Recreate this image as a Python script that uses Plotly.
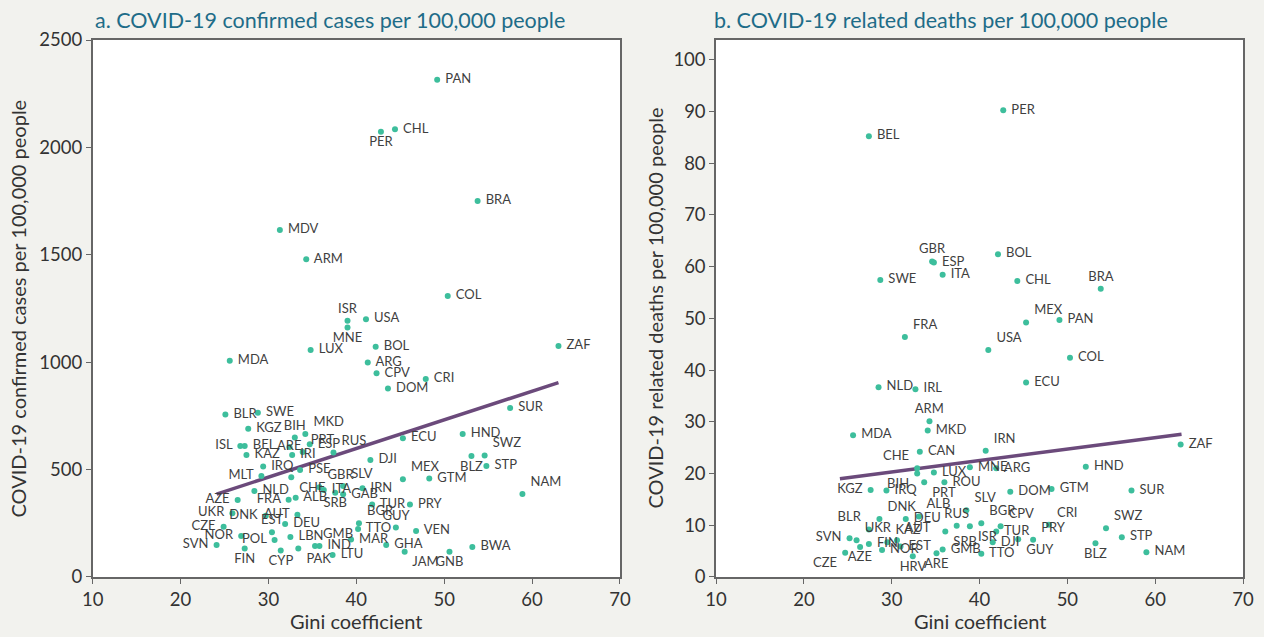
import plotly.graph_objects as go

# ---- panel a: confirmed cases per 100,000 ----
codes_a = ["PAN", "CHL", "PER", "BRA", "MDV", "ARM", "COL", "ISR", "USA", "MNE",
           "BOL", "LUX", "MDA", "ARG", "CPV", "CRI", "DOM", "ZAF", "SUR", "HND",
           "ECU", "BLR", "SWE", "KGZ", "MKD", "BIH", "ISL", "BEL", "ESP", "RUS",
           "ARE", "PRT", "IRI", "KAZ", "IRQ", "MLT", "PSE", "CHE", "GBR", "ITA",
           "SLV", "IRN", "GAB", "SRB", "ALB", "NLD", "AZE", "FRA", "AUT", "UKR",
           "DNK", "CZE", "DEU", "EST", "POL", "NOR", "FIN", "SVN", "CYP", "LBN",
           "PAK", "GMB", "IND", "MAR", "LTU", "BGR", "TTO", "GUY", "VEN", "GHA",
           "JAM", "GNB", "BWA", "DJI", "MEX", "GTM", "TUR", "PRY", "SWZ", "BLZ",
           "STP", "NAM"]
gini_a = [49.2, 44.4, 42.8, 53.8, 31.3, 34.3, 50.4, 39.0, 41.1, 39.0,
          42.2, 34.8, 25.6, 41.3, 42.3, 47.9, 43.6, 63.0, 57.5, 52.1,
          45.3, 25.1, 28.8, 27.7, 34.2, 33.0, 26.8, 27.3, 34.7, 37.4,
          32.4, 33.9, 32.7, 27.5, 29.4, 29.2, 33.6, 32.6, 35.8, 36.3,
          38.5, 40.7, 38.5, 37.6, 33.1, 28.4, 26.5, 32.3, 33.3, 25.9,
          29.7, 24.9, 31.9, 30.4, 30.7, 26.9, 27.3, 24.1, 31.4, 32.5,
          33.4, 35.3, 35.8, 39.4, 37.3, 40.3, 40.2, 44.5, 46.8, 43.4,
          45.5, 50.6, 53.2, 41.6, 45.3, 48.3, 41.8, 46.1, 54.6, 53.1,
          54.8, 58.9]
cases_a = [2315, 2084, 2073, 1750, 1615, 1479, 1308, 1193, 1200, 1162,
           1072, 1057, 1007, 998, 948, 922, 877, 1075, 787, 666,
           646, 756, 765, 690, 666, 649, 610, 610, 618, 579,
           605, 582, 568, 568, 514, 470, 498, 464, 418, 405,
           424, 413, 385, 392, 369, 400, 358, 360, 290, 297,
           285, 234, 247, 208, 172, 191, 133, 149, 123, 186,
           133, 144, 144, 175, 102, 250, 223, 230, 214, 149,
           118, 118, 140, 545, 455, 459, 338, 338, 566, 563,
           517, 386]
trend_a_x = [24.1, 63.0]
trend_a_y = [386, 905]

# ---- panel b: related deaths per 100,000 ----
codes_b = ["PER", "BEL", "GBR", "ESP", "ITA", "BOL", "SWE", "CHL", "BRA", "MEX",
           "PAN", "FRA", "USA", "COL", "NLD", "IRL", "ECU", "ARM", "MKD", "MDA",
           "IRN", "CAN", "CHE", "BIH", "LUX", "MNE", "ARG", "HND", "ROU", "PRT",
           "KGZ", "IRQ", "DOM", "GTM", "SUR", "ZAF", "SWZ", "STP", "NAM", "BLZ",
           "CRI", "ALB", "SLV", "DNK", "DEU", "RUS", "BGR", "CPV", "ISR", "SRB",
           "TUR", "PRY", "DJI", "GUY", "TTO", "GMB", "ARE", "HRV", "BLR", "SVN",
           "UKR", "CZE", "AZE", "FIN", "KAZ", "AUT", "EST", "NOR"]
gini_b = [42.7, 27.4, 34.6, 34.8, 35.8, 42.1, 28.7, 44.3, 53.8, 45.3,
          49.1, 31.5, 41.0, 50.3, 28.5, 32.7, 45.3, 34.3, 34.1, 25.6,
          40.7, 33.2, 32.9, 32.9, 34.8, 38.9, 41.9, 52.1, 36.0, 33.7,
          27.6, 29.4, 43.5, 48.2, 57.3, 62.9, 54.4, 56.2, 59.0, 53.2,
          47.9, 33.1, 38.5, 28.6, 31.6, 37.4, 40.2, 42.4, 38.9, 36.1,
          41.9, 46.1, 41.5, 44.4, 40.2, 35.8, 35.1, 32.4, 27.4, 25.2,
          26.0, 24.7, 26.4, 27.4, 29.5, 30.6, 31.0, 28.9]
deaths_b = [90.2, 85.2, 61.0, 60.8, 58.4, 62.4, 57.4, 57.2, 55.7, 49.2,
            49.7, 46.4, 43.9, 42.4, 36.7, 36.3, 37.6, 30.1, 28.3, 27.4,
            24.4, 24.2, 21.0, 20.0, 20.2, 21.2, 21.0, 21.3, 18.3, 18.3,
            16.8, 16.7, 16.5, 17.0, 16.7, 25.6, 9.4, 7.7, 4.8, 6.5,
            10.1, 11.7, 12.9, 11.2, 11.2, 9.9, 10.4, 9.8, 9.8, 8.8,
            8.8, 7.2, 6.7, 7.3, 4.5, 5.3, 4.6, 4.0, 9.2, 7.5,
            7.1, 4.7, 5.8, 6.4, 6.7, 7.1, 5.9, 5.2]
trend_b_x = [24.1, 63.0]
trend_b_y = [19.0, 27.6]

# label placement where the default (right of the dot) collides
POS_A = {"PER": "bottom center", "ISR": "top center", "MNE": "bottom center",
         "MKD": "top right", "BIH": "top center", "ISL": "middle left",
         "RUS": "top right", "ARE": "middle center", "PRT": "top right",
         "MLT": "middle left", "CHE": "bottom right", "GBR": "top right",
         "SLV": "top right", "SRB": "bottom center", "AZE": "middle left",
         "FRA": "middle left", "AUT": "middle left", "UKR": "middle left",
         "DNK": "middle left", "CZE": "middle left", "EST": "top center",
         "POL": "middle left", "NOR": "middle left", "FIN": "bottom center",
         "SVN": "middle left", "CYP": "bottom center", "PAK": "bottom right",
         "GMB": "top right", "BGR": "top right", "GUY": "top center",
         "JAM": "bottom right", "GNB": "bottom center", "MEX": "top right",
         "SWZ": "top right", "BLZ": "bottom center", "NAM": "top right"}
POS_B = {"GBR": "top center", "BRA": "top center", "MEX": "top right",
         "FRA": "top right", "USA": "top right", "ARM": "top center",
         "IRN": "top right", "CHE": "top left", "BIH": "bottom left",
         "PRT": "bottom right", "KGZ": "middle left", "SWZ": "top right",
         "BLZ": "bottom center", "CRI": "top right", "ALB": "top right",
         "SLV": "top right", "DNK": "top right", "RUS": "top center",
         "BGR": "top right", "CPV": "top right", "ISR": "bottom right",
         "SRB": "bottom right", "PRY": "top right", "GUY": "bottom right",
         "ARE": "bottom center", "HRV": "bottom center", "BLR": "top left",
         "SVN": "middle left", "UKR": "top right", "CZE": "bottom left",
         "AZE": "bottom center", "KAZ": "top right", "AUT": "top right"}

BG = "#F2F2EE"
DOT = "#3DBE9C"
LINE = "#6B4A7B"
TEXT = "#3F3F3F"
FONT = "Lato, Open Sans, sans-serif"

fig = go.Figure()

panels = [
    (codes_a, gini_a, cases_a, POS_A, trend_a_x, trend_a_y, "x", "y"),
    (codes_b, gini_b, deaths_b, POS_B, trend_b_x, trend_b_y, "x2", "y2"),
]
for codes, xs, ys, pos, tx, ty, xa, ya in panels:
    fig.add_trace(go.Scatter(
        x=tx, y=ty, mode="lines", xaxis=xa, yaxis=ya,
        line=dict(color=LINE, width=3.5), hoverinfo="skip"))
    fig.add_trace(go.Scatter(
        x=xs, y=ys, mode="markers+text", xaxis=xa, yaxis=ya,
        text=[" " + c + " " for c in codes],
        textposition=[pos.get(c, "middle right") for c in codes],
        textfont=dict(family=FONT, size=13, color=TEXT),
        marker=dict(color=DOT, size=6),
        cliponaxis=False,
        hovertemplate="%{text}: %{x}, %{y}<extra></extra>"))

axis_style = dict(
    showgrid=False, zeroline=False, showline=True, mirror=True,
    automargin=False,
    linecolor="#666666", linewidth=1.5, ticks="outside", ticklen=5,
    tickcolor="#666666", tickfont=dict(family=FONT, size=18.5, color="#333333"))

fig.update_layout(
    width=1264, height=637,
    margin=dict(l=0, r=0, t=0, b=0, autoexpand=False),
    paper_bgcolor=BG, plot_bgcolor="white",
    showlegend=False,
    xaxis=dict(domain=[0.0733, 0.4905], range=[10, 70], dtick=10, **axis_style),
    yaxis=dict(domain=[0.0942, 0.9372], range=[0, 2500], dtick=500, **axis_style),
    xaxis2=dict(domain=[0.5665, 0.9834], range=[10, 70], dtick=10,
                anchor="y2", **axis_style),
    yaxis2=dict(domain=[0.0942, 0.9372], range=[0, 103.8], dtick=10,
                anchor="x2", **axis_style),
)

titles = [
    (0.0733, "a. COVID-19 confirmed cases per 100,000 people"),
    (0.5635, "b. COVID-19 related deaths per 100,000 people"),
]
for x0, t in titles:
    fig.add_annotation(x=x0, y=1 - 20 / 637, xref="paper", yref="paper",
                       xanchor="left", yanchor="middle", showarrow=False,
                       text=t, font=dict(family=FONT, size=21.5, color="#1E6C88"))

for xc in [0.2819, 0.775]:
    fig.add_annotation(x=xc, y=1 - 621 / 637, xref="paper", yref="paper",
                       xanchor="center", yanchor="middle", showarrow=False,
                       text="Gini coefficient",
                       font=dict(family=FONT, size=20, color="#333333"))

ylabels = [
    (18 / 1264, "COVID-19 confirmed cases per 100,000 people"),
    (655 / 1264, "COVID-19 related deaths per 100,000 people"),
]
for xc, t in ylabels:
    fig.add_annotation(x=xc, y=0.5157, xref="paper", yref="paper",
                       xanchor="center", yanchor="middle",
                       showarrow=False, textangle=-90, text=t,
                       font=dict(family=FONT, size=20, color="#333333"))

# drop the page's default body margin so the figure fills the window
fig.write_html("out.html", config={"displayModeBar": False}, post_script=(
    "document.body.style.margin='0';"
    "document.body.style.overflow='hidden';"
    f"document.body.style.background='{BG}';"))
